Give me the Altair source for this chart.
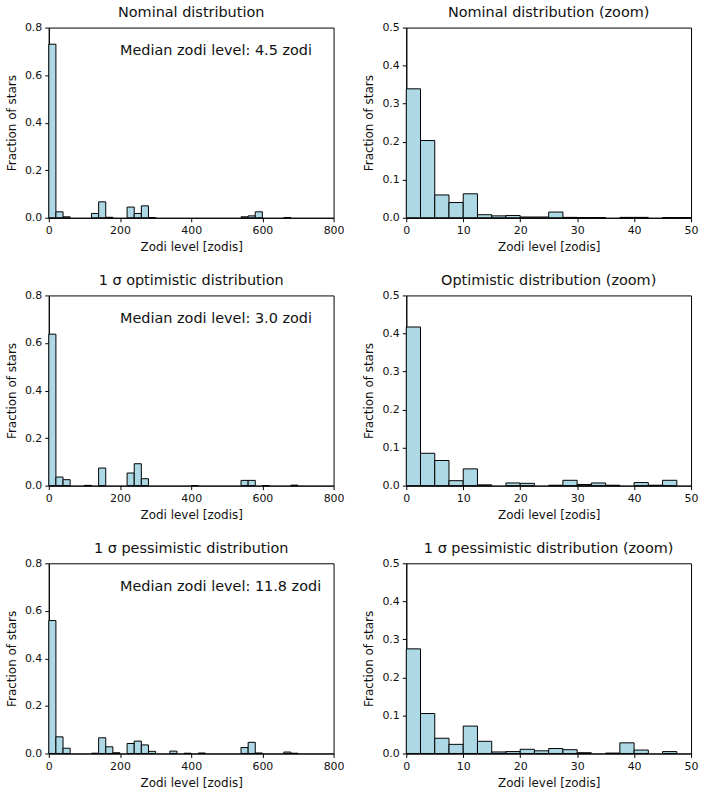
import altair as alt
import pandas as pd

# ---------------- data ----------------
# wide histograms: 40 bins of 20 zodis from 0 to 800
wide_bin_width = 20
nominal_wide = [0.730, 0.025, 0.004, 0, 0, 0, 0.018, 0.067, 0.002, 0,
                0, 0.045, 0.018, 0.050, 0.001, 0, 0, 0, 0, 0,
                0, 0, 0, 0, 0, 0, 0, 0.004, 0.008, 0.025,
                0, 0, 0, 0.001, 0, 0, 0, 0, 0, 0]
optimistic_wide = [0.637, 0.036, 0.025, 0, 0, 0.001, 0, 0.074, 0, 0,
                   0, 0.053, 0.092, 0.029, 0, 0, 0, 0, 0, 0,
                   0.0005, 0, 0, 0, 0, 0, 0, 0.022, 0.022, 0,
                   0.0005, 0, 0, 0, 0.002, 0, 0, 0, 0, 0]
pessimistic_wide = [0.559, 0.070, 0.022, 0, 0, 0, 0.001, 0.066, 0.028, 0.003,
                    0, 0.042, 0.052, 0.036, 0.009, 0, 0, 0.010, 0, 0.001,
                    0, 0.002, 0, 0, 0, 0, 0, 0.025, 0.047, 0.002,
                    0, 0, 0, 0.006, 0.001, 0, 0, 0, 0, 0]

# zoomed histograms: 20 bins of 2.5 zodis from 0 to 50
zoom_bin_width = 2.5
nominal_zoom = [0.339, 0.203, 0.060, 0.040, 0.063, 0.008, 0.005, 0.006, 0.002, 0.002,
                0.015, 0.001, 0.0005, 0.0005, 0, 0.001, 0.001, 0, 0.0005, 0.0005]
optimistic_zoom = [0.417, 0.085, 0.066, 0.013, 0.044, 0.002, 0, 0.007, 0.006, 0,
                   0.001, 0.014, 0.003, 0.007, 0.001, 0, 0.008, 0.001, 0.014, 0]
pessimistic_zoom = [0.275, 0.105, 0.040, 0.024, 0.072, 0.032, 0.004, 0.005, 0.011, 0.007,
                    0.013, 0.010, 0.002, 0, 0.001, 0.028, 0.009, 0, 0.005, 0]

medians = [4.5, 3.0, 11.8]
wide_titles = ["Nominal distribution", "1 σ optimistic distribution", "1 σ pessimistic distribution"]
zoom_titles = ["Nominal distribution (zoom)", "Optimistic distribution (zoom)",
               "1 σ pessimistic distribution (zoom)"]
wide_xticks = [0, 200, 400, 600, 800]
zoom_xticks = [0, 10, 20, 30, 40, 50]
wide_yticks = [0.0, 0.2, 0.4, 0.6, 0.8]
zoom_yticks = [0.0, 0.1, 0.2, 0.3, 0.4, 0.5]

FONT = "DejaVu Sans"
W, H = 286, 191


def hist_df(values, bw):
    rows = []
    for i, v in enumerate(values):
        if v > 0:
            rows.append({"start": i * bw, "end": (i + 1) * bw, "frac": v})
    return pd.DataFrame(rows)


def panel(values, bw, xmax, ymax, xticks, yticks, title, median=None):
    df = hist_df(values, bw)
    bars = alt.Chart(df).mark_bar(
        fill="#add8e6", stroke="black", strokeWidth=1, opacity=1
    ).encode(
        x=alt.X("start:Q", scale=alt.Scale(domain=[0, xmax], nice=False, zero=False),
                axis=alt.Axis(values=xticks, title="Zodi level [zodis]", format="d")),
        x2="end:Q",
        y=alt.Y("frac:Q", scale=alt.Scale(domain=[0, ymax], nice=False),
                axis=alt.Axis(values=yticks, title="Fraction of stars", format=".1f")),
        y2=alt.datum(0),
    )
    layers = [bars]
    if median is not None:
        tdf = pd.DataFrame({"x": [200], "y": [0.7],
                            "t": ["Median zodi level: {:.1f} zodi".format(median)]})
        txt = alt.Chart(tdf).mark_text(
            align="left", baseline="middle", font=FONT, fontSize=14.5, color="#111"
        ).encode(x="x:Q", y="y:Q", text="t:N")
        layers.append(txt)
    return alt.layer(*layers).properties(
        width=W, height=H,
        title=alt.TitleParams(text=title, font=FONT, fontSize=14.5, fontWeight="normal",
                              color="#111", offset=1, anchor="middle"),
    )


panels = []
wides = [nominal_wide, optimistic_wide, pessimistic_wide]
zooms = [nominal_zoom, optimistic_zoom, pessimistic_zoom]
for i in range(3):
    panels.append(panel(wides[i], wide_bin_width, 800, 0.8, wide_xticks, wide_yticks,
                        wide_titles[i], medians[i]))
    panels.append(panel(zooms[i], zoom_bin_width, 50, 0.5, zoom_xticks, zoom_yticks,
                        zoom_titles[i]))

chart = alt.concat(*panels, columns=2, spacing={"row": 78, "column": 73},
                   bounds="flush").properties(
    padding={"left": 5, "top": 3, "right": 5, "bottom": 2},
    background="white",
).configure_axis(
    labelFont=FONT, labelFontSize=11, labelColor="#111", labelFlush=False,
    titleFont=FONT, titleFontSize=12, titleFontWeight="normal", titleColor="#111",
    domainColor="black", tickColor="black", tickSize=4, labelPadding=3,
    titlePadding=6, grid=False, domainWidth=1, tickWidth=1,
).configure_view(stroke="black", strokeWidth=1)

chart.save("out.html", embed_options={"renderer": "svg", "actions": False})
